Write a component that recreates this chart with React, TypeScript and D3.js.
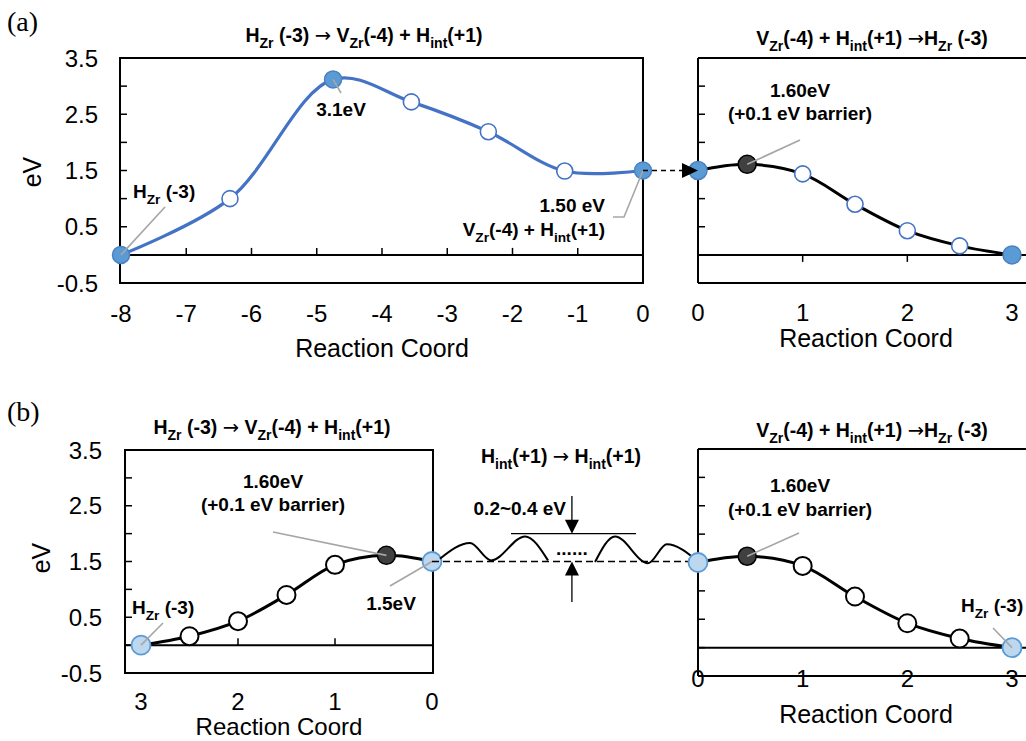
import React from 'react';
import * as d3 from 'd3';

// ---------- data ----------
const aLeftX = [-8, -6.33, -4.75, -3.55, -2.37, -1.2, 0];
const aLeftY = [0, 1.0, 3.12, 2.72, 2.19, 1.49, 1.5];
const aLeftKind = ['filled', 'open', 'filled', 'open', 'open', 'open', 'filled'];

const pathX = [0, 0.47, 1, 1.5, 2, 2.5, 3];
const pathY = [1.5, 1.61, 1.44, 0.9, 0.43, 0.16, 0];
const pathKind = ['end', 'saddle', 'open', 'open', 'open', 'open', 'end'];

const yTickLabels = [-0.5, 0.5, 1.5, 2.5, 3.5];
const yMinorTicks = [0, 0.5, 1, 1.5, 2, 2.5, 3];
const aLeftXTickLabels = [-8, -7, -6, -5, -4, -3, -2, -1, 0];
const aLeftXMinor = [-7, -6, -5, -4, -3, -2, -1];
const coordTickLabels = [0, 1, 2, 3];
const coordMinor = [1, 2];

// schematic hopping profile (middle of panel b), x in 0..10
const waveAX = [0.3, 1.43, 2.22, 3.5, 4.36];
const waveAY = [1.55, 1.83, 1.52, 1.95, 1.52];
const waveBX = [6.13, 6.88, 8.12, 8.83, 9.96];
const waveBY = [1.49, 1.95, 1.47, 1.81, 1.52];
const barrierTopY = 2.0;
const baseLevelY = 1.5;

// ---------- styles ----------
const FONT = '"Liberation Sans", Arial, sans-serif';
const BLUE_LINE = '#4472C4';
const BLUE_FILL = '#5B9BD5';
const BLUE_EDGE = '#4A82C0';
const LIGHT_FILL = '#BDD7EE';
const LIGHT_EDGE = '#5B9BD5';
const LEADER = '#A6A6A6';

// segment: [text, kind]  kind 1 = subscript, 2 = arrow glyph
type Seg = [string, number?];
function Chem({ x, y, segs, size, anchor = 'middle' }: { x: number; y: number; segs: Seg[]; size: number; anchor?: string }) {
  const sub = size * 0.72;
  const shift = size * 0.3;
  let down = false;
  const els = segs.map(([t, kind], i) => {
    const isSub = kind === 1;
    let dy: number | undefined;
    if (isSub && !down) { dy = shift; down = true; }
    else if (!isSub && down) { dy = -shift; down = false; }
    if (kind === 2) {
      return (
        <tspan key={i} dy={dy} fontSize={size} fontWeight="normal" fontFamily='"DejaVu Sans", sans-serif'>{t}</tspan>
      );
    }
    return (
      <tspan key={i} dy={dy} fontSize={isSub ? sub : size}>{t}</tspan>
    );
  });
  return (
    <text x={x} y={y} textAnchor={anchor as any} fontWeight="bold" fontSize={size} fontFamily={FONT} style={{ whiteSpace: 'pre' }}>
      {els}
    </text>
  );
}

export default function App() {
  const axL = d3.scaleLinear().domain([-8, 0]).range([121, 643]);
  const ayA = d3.scaleLinear().domain([-0.5, 3.5]).range([283, 58]);
  const axR = d3.scaleLinear().domain([0, 3]).range([698, 1012]);
  const bxL = d3.scaleLinear().domain([3, 0]).range([141, 432]);
  const byL = d3.scaleLinear().domain([-0.5, 3.5]).range([673, 450]);
  const bxR = d3.scaleLinear().domain([0, 3]).range([698, 1012]);
  const byR = d3.scaleLinear().domain([-0.5, 3.5]).range([676, 449]);
  const mx = d3.scaleLinear().domain([0, 10]).range([432, 698]);

  const smooth = (xs: any, ys: any, X: number[], Y: number[]) =>
    d3.line<number>().x((_, i) => xs(X[i])).y((_, i) => ys(Y[i])).curve(d3.curveCatmullRom.alpha(0.5))(X.map((_, i) => i)) || '';
  const wave = (X: number[], Y: number[]) =>
    d3.line<number>().x((_, i) => mx(X[i])).y((_, i) => byL(Y[i])).curve(d3.curveMonotoneX)(X.map((_, i) => i)) || '';

  const yAxis = (ys: any, xLeft: number, labelRight: number | null, key: string) => (
    <g key={key}>
      {yMinorTicks.map((v) => (
        <line key={v} x1={xLeft} x2={xLeft + 7} y1={ys(v)} y2={ys(v)} stroke="#000" strokeWidth={1.5} />
      ))}
      {labelRight !== null && yTickLabels.map((v) => (
        <text key={'l' + v} x={labelRight} y={ys(v)} dy="0.36em" textAnchor="end" fontSize={24} fontFamily={FONT}>{v.toFixed(1)}</text>
      ))}
    </g>
  );

  const marker = (kind: string, cx: number, cy: number, key: string, palette: 'a' | 'b') => {
    if (kind === 'filled') return <circle key={key} cx={cx} cy={cy} r={8.5} fill={BLUE_FILL} stroke={BLUE_EDGE} strokeWidth={1.5} />;
    if (kind === 'open' && palette === 'a') return <circle key={key} cx={cx} cy={cy} r={8} fill="#fff" stroke={BLUE_LINE} strokeWidth={1.6} />;
    if (kind === 'open') return <circle key={key} cx={cx} cy={cy} r={9} fill="#fff" stroke="#000" strokeWidth={2} />;
    if (kind === 'saddle') return <circle key={key} cx={cx} cy={cy} r={9} fill="#404040" stroke="#000" strokeWidth={1.5} />;
    // end markers
    if (palette === 'a') return <circle key={key} cx={cx} cy={cy} r={9} fill={BLUE_FILL} stroke={BLUE_EDGE} strokeWidth={1.5} />;
    return <circle key={key} cx={cx} cy={cy} r={9.5} fill={LIGHT_FILL} stroke={LIGHT_EDGE} strokeWidth={1.8} />;
  };

  const lead = (pts: [number, number][], key: string) => (
    <polyline key={key} points={pts.map((p) => p.join(',')).join(' ')} fill="none" stroke={LEADER} strokeWidth={1.6} />
  );

  const titleL: Seg[] = [['H'], ['Zr', 1], [' (-3) '], ['\u2192', 2], [' V'], ['Zr', 1], ['(-4) + H'], ['int', 1], ['(+1)']];
  const titleR: Seg[] = [['V'], ['Zr', 1], ['(-4) + H'], ['int', 1], ['(+1) '], ['\u2192', 2], ['H'], ['Zr', 1], [' (-3)']];
  const titleM: Seg[] = [['H'], ['int', 1], ['(+1) '], ['\u2192', 2], [' H'], ['int', 1], ['(+1)']];
  const hzr: Seg[] = [['H'], ['Zr', 1], [' (-3)']];
  const vzrh: Seg[] = [['V'], ['Zr', 1], ['(-4) + H'], ['int', 1], ['(+1)']];

  const aTop = ayA(3.5), aBot = ayA(-0.5), aZero = ayA(0);
  const bTopL = byL(3.5), bBotL = byL(-0.5), bZeroL = byL(0);
  const bTopR = byR(3.5), bBotR = byR(-0.5), bZeroR = byR(0);

  const arrowX = mx(5.26);
  const TS = 19.5;

  return (
    <svg width={1026} height={741} style={{ position: 'absolute', left: 0, top: 0, background: '#fff' }}>
      <rect x={0} y={0} width={1026} height={741} fill="#fff" />

      {/* ---------- panel labels ---------- */}
      <text x={7} y={31} fontSize={28} fontFamily='"Liberation Serif", "Times New Roman", serif'>(a)</text>
      <text x={7} y={421} fontSize={28} fontFamily='"Liberation Serif", "Times New Roman", serif'>(b)</text>

      {/* ================= (a) left ================= */}
      <Chem x={364} y={42} segs={titleL} size={TS} />
      <rect x={120} y={aTop} width={643 - 120} height={aBot - aTop} fill="none" stroke="#000" strokeWidth={2} />
      <line x1={120} x2={643} y1={aZero} y2={aZero} stroke="#000" strokeWidth={2} />
      {aLeftXMinor.map((v) => <line key={v} x1={axL(v)} x2={axL(v)} y1={aZero} y2={aZero - 7} stroke="#000" strokeWidth={1.5} />)}
      {yAxis(ayA, 120, 98, 'ya')}
      {aLeftXTickLabels.map((v) => (
        <text key={v} x={axL(v)} y={322} textAnchor="middle" fontSize={24} fontFamily={FONT}>{v}</text>
      ))}
      <text x={382} y={357} textAnchor="middle" fontSize={25} fontFamily={FONT}>Reaction Coord</text>
      <text transform="translate(41,172) rotate(-90)" textAnchor="middle" fontSize={25} fontFamily={FONT}>eV</text>
      <path d={smooth(axL, ayA, aLeftX, aLeftY)} fill="none" stroke={BLUE_LINE} strokeWidth={3.2} />
      {aLeftX.map((v, i) => marker(aLeftKind[i], axL(v), ayA(aLeftY[i]), 'am' + i, 'a'))}
      {lead([[axL(-4.75), ayA(3.12)], [341, 93]], 'l1')}
      <text x={341} y={116} textAnchor="middle" fontWeight="bold" fontSize={19} fontFamily={FONT}>3.1eV</text>
      {lead([[axL(-8), aZero], [165, 207]], 'l2')}
      <Chem x={133} y={198} segs={hzr} size={19} anchor="start" />
      {lead([[axL(0), ayA(1.5)], [624, 217], [613, 217]], 'l3')}
      <text x={605} y={212} textAnchor="end" fontWeight="bold" fontSize={19} fontFamily={FONT}>1.50 eV</text>
      <Chem x={605} y={236} segs={vzrh} size={19} anchor="end" />

      {/* ================= (a) right ================= */}
      <Chem x={872} y={45} segs={titleR} size={TS} />
      <line x1={698} x2={1026} y1={aTop} y2={aTop} stroke="#000" strokeWidth={2} />
      <line x1={698} x2={1026} y1={aBot} y2={aBot} stroke="#000" strokeWidth={2} />
      <line x1={698} x2={698} y1={aTop} y2={aBot} stroke="#000" strokeWidth={2} />
      <line x1={698} x2={1026} y1={aZero} y2={aZero} stroke="#000" strokeWidth={2} />
      {coordMinor.map((v) => <line key={v} x1={axR(v)} x2={axR(v)} y1={aZero} y2={aZero + 7} stroke="#000" strokeWidth={1.5} />)}
      {yAxis(ayA, 698, null, 'yar')}
      {coordTickLabels.map((v) => (
        <text key={v} x={axR(v)} y={321} textAnchor="middle" fontSize={24} fontFamily={FONT}>{v}</text>
      ))}
      <text x={866} y={347} textAnchor="middle" fontSize={25} fontFamily={FONT}>Reaction Coord</text>
      <path d={smooth(axR, ayA, pathX, pathY)} fill="none" stroke="#000" strokeWidth={3} />
      {pathX.map((v, i) => marker(pathKind[i], axR(v), ayA(pathY[i]), 'arm' + i, 'a'))}
      {lead([[axR(0.47), ayA(1.61)], [800, 140]], 'l4')}
      <text x={800} y={97} textAnchor="middle" fontWeight="bold" fontSize={19} fontFamily={FONT}>1.60eV</text>
      <text x={800} y={120} textAnchor="middle" fontWeight="bold" fontSize={19} fontFamily={FONT}>(+0.1 eV barrier)</text>
      {/* dashed transfer arrow */}
      <line x1={axL(0)} x2={684} y1={ayA(1.5)} y2={ayA(1.5)} stroke="#000" strokeWidth={1.5} strokeDasharray="5,4" />
      <polygon points={`${axR(0)},${ayA(1.5)} ${axR(0) - 16},${ayA(1.5) - 7.5} ${axR(0) - 16},${ayA(1.5) + 7.5}`} fill="#000" />

      {/* ================= (b) left ================= */}
      <Chem x={272} y={434} segs={titleL} size={TS} />
      <rect x={125} y={bTopL} width={433 - 125} height={bBotL - bTopL} fill="none" stroke="#000" strokeWidth={2} />
      <line x1={125} x2={433} y1={bZeroL} y2={bZeroL} stroke="#000" strokeWidth={2} />
      {coordMinor.map((v) => <line key={v} x1={bxL(v)} x2={bxL(v)} y1={bZeroL} y2={bZeroL - 7} stroke="#000" strokeWidth={1.5} />)}
      {yAxis(byL, 125, 102, 'ybl')}
      {coordTickLabels.map((v) => (
        <text key={v} x={bxL(v)} y={710} textAnchor="middle" fontSize={24} fontFamily={FONT}>{v}</text>
      ))}
      <text x={279} y={735} textAnchor="middle" fontSize={24} fontFamily={FONT}>Reaction Coord</text>
      <text transform="translate(50,558) rotate(-90)" textAnchor="middle" fontSize={25} fontFamily={FONT}>eV</text>
      <path d={smooth(bxL, byL, pathX, pathY)} fill="none" stroke="#000" strokeWidth={3} />
      {pathX.map((v, i) => marker(pathKind[i], bxL(v), byL(pathY[i]), 'blm' + i, 'b'))}
      {lead([[bxL(0.47), byL(1.61)], [273, 532]], 'l5')}
      <text x={273} y={488} textAnchor="middle" fontWeight="bold" fontSize={19} fontFamily={FONT}>1.60eV</text>
      <text x={273} y={511} textAnchor="middle" fontWeight="bold" fontSize={19} fontFamily={FONT}>(+0.1 eV barrier)</text>
      {lead([[bxL(0), byL(1.5)], [390, 586]], 'l6')}
      <text x={391} y={610} textAnchor="middle" fontWeight="bold" fontSize={19} fontFamily={FONT}>1.5eV</text>
      {lead([[bxL(3), bZeroL], [163, 623]], 'l7')}
      <Chem x={132} y={614} segs={hzr} size={19} anchor="start" />

      {/* ================= (b) middle ================= */}
      <Chem x={561} y={463} segs={titleM} size={TS} />
      <line x1={mx(0)} x2={mx(10)} y1={byL(baseLevelY)} y2={byL(baseLevelY)} stroke="#000" strokeWidth={1.3} strokeDasharray="7,4" />
      <path d={wave(waveAX, waveAY)} fill="none" stroke="#000" strokeWidth={2} />
      <path d={wave(waveBX, waveBY)} fill="none" stroke="#000" strokeWidth={2} />
      <line x1={mx(2.97)} x2={mx(7.67)} y1={byL(barrierTopY)} y2={byL(barrierTopY)} stroke="#000" strokeWidth={1.3} />
      <line x1={arrowX} x2={arrowX} y1={496} y2={byL(barrierTopY) - 10} stroke="#000" strokeWidth={1.3} />
      <polygon points={`${arrowX},${byL(barrierTopY)} ${arrowX - 7},${byL(barrierTopY) - 14} ${arrowX + 7},${byL(barrierTopY) - 14}`} fill="#000" />
      <line x1={arrowX} x2={arrowX} y1={602} y2={byL(baseLevelY) + 10} stroke="#000" strokeWidth={1.3} />
      <polygon points={`${arrowX},${byL(baseLevelY)} ${arrowX - 7},${byL(baseLevelY) + 14} ${arrowX + 7},${byL(baseLevelY) + 14}`} fill="#000" />
      <text x={566} y={515} textAnchor="end" fontWeight="bold" fontSize={19} fontFamily={FONT}>0.2~0.4 eV</text>
      <text x={arrowX} y={555} textAnchor="middle" fontWeight="bold" fontSize={19} fontFamily={FONT}>......</text>

      {/* ================= (b) right ================= */}
      <Chem x={872} y={437} segs={titleR} size={TS} />
      <line x1={698} x2={1026} y1={bTopR} y2={bTopR} stroke="#000" strokeWidth={2} />
      <line x1={698} x2={1026} y1={bBotR} y2={bBotR} stroke="#000" strokeWidth={2} />
      <line x1={698} x2={698} y1={bTopR} y2={bBotR} stroke="#000" strokeWidth={2} />
      <line x1={698} x2={1026} y1={bZeroR} y2={bZeroR} stroke="#000" strokeWidth={2} />
      {yAxis(byR, 698, null, 'ybr')}
      {coordTickLabels.map((v) => (
        <text key={v} x={bxR(v)} y={687} textAnchor="middle" fontSize={24} fontFamily={FONT}>{v}</text>
      ))}
      <text x={866} y={723} textAnchor="middle" fontSize={25} fontFamily={FONT}>Reaction Coord</text>
      <path d={smooth(bxR, byR, pathX, pathY)} fill="none" stroke="#000" strokeWidth={3} />
      {pathX.map((v, i) => marker(pathKind[i], bxR(v), byR(pathY[i]), 'brm' + i, 'b'))}
      {lead([[bxR(0.47), byR(1.61)], [799, 533]], 'l8')}
      <text x={800} y={492} textAnchor="middle" fontWeight="bold" fontSize={19} fontFamily={FONT}>1.60eV</text>
      <text x={800} y={516} textAnchor="middle" fontWeight="bold" fontSize={19} fontFamily={FONT}>(+0.1 eV barrier)</text>
      {lead([[bxR(3), bZeroR], [993, 628]], 'l9')}
      <Chem x={961} y={612} segs={hzr} size={19} anchor="start" />
    </svg>
  );
}
